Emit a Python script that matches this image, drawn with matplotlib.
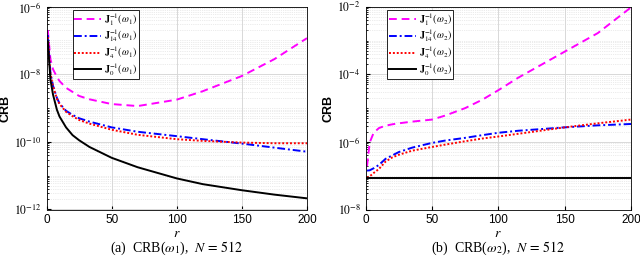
import numpy as np
import matplotlib
matplotlib.use("Agg")
import matplotlib.pyplot as plt
from matplotlib.ticker import LogLocator, NullFormatter

plt.rcParams['mathtext.fontset'] = 'stix'
plt.rcParams['font.family'] = ['Liberation Sans', 'DejaVu Sans']

# ---- data (log10 of CRB) ----
r_a = [1, 3, 5, 8, 10, 15, 20, 25, 33, 50, 70, 100, 120, 150, 175, 200]
a_J1 = [-6.69, -7.55, -7.85, -8.08, -8.20, -8.40, -8.52, -8.64, -8.74, -8.88, -8.94, -8.75, -8.50, -8.05, -7.55, -6.93]
a_J14 = [-6.84, -7.95, -8.34, -8.70, -8.86, -9.08, -9.20, -9.30, -9.40, -9.57, -9.70, -9.83, -9.92, -10.05, -10.17, -10.29]
a_J4 = [-6.90, -7.98, -8.36, -8.72, -8.88, -9.11, -9.24, -9.35, -9.46, -9.64, -9.79, -9.92, -9.97, -10.02, -10.04, -10.04]
a_J0 = [-7.03, -8.15, -8.60, -9.05, -9.25, -9.57, -9.80, -9.95, -10.15, -10.47, -10.75, -11.08, -11.25, -11.43, -11.56, -11.67]

r_b = [1, 3, 6, 10, 15, 20, 25, 35, 50, 60, 75, 88, 100, 115, 150, 175, 200]
b_J1 = [-6.72, -6.02, -5.73, -5.59, -5.52, -5.48, -5.45, -5.40, -5.34, -5.22, -5.00, -4.75, -4.47, -4.10, -3.33, -2.78, -2.02]
b_J14 = [-6.85, -6.84, -6.78, -6.68, -6.50, -6.40, -6.30, -6.17, -6.03, -5.96, -5.88, -5.80, -5.73, -5.67, -5.57, -5.51, -5.47]
b_J4 = [-7.06, -7.02, -6.92, -6.80, -6.58, -6.46, -6.38, -6.26, -6.15, -6.08, -5.98, -5.90, -5.84, -5.76, -5.57, -5.45, -5.34]
b_J0 = [-7.07] * 17

caps = [r"(a)  CRB($\omega_1$),  $N\,=\,512$", r"(b)  CRB($\omega_2$),  $N\,=\,512$"]

fig = plt.figure(figsize=(6.4, 2.73), dpi=100)
W, H = 640, 273
ax1 = fig.add_axes([46.5 / W, 1 - 209.5 / H, (307 - 46.5) / W, (209.5 - 6.7) / H])
ax2 = fig.add_axes([365.7 / W, 1 - 209.5 / H, (631 - 365.7) / W, (209.5 - 6.7) / H])

def draw(ax, r, J1, J14, J4, J0, w, ylim, legx):
    r = np.asarray(r)
    ax.plot(r, 10 ** np.asarray(J1), color='#ff00ff', ls=(0, (4, 2.5)), lw=1.4,
            label=r"$\mathbf{J}_1^{-1}(\omega_%d)$" % w)
    ax.plot(r, 10 ** np.asarray(J14), color='#0000ff', ls=(0, (4, 1.5, 1, 1.5)), lw=1.4,
            label=r"$\mathbf{J}_{14}^{-1}(\omega_%d)$" % w)
    ax.plot(r, 10 ** np.asarray(J4), color='#ff0000', ls=(0, (1, 1)), lw=1.4,
            label=r"$\mathbf{J}_4^{-1}(\omega_%d)$" % w)
    ax.plot(r, 10 ** np.asarray(J0), color='black', ls='-', lw=1.4,
            label=r"$\mathbf{J}_0^{-1}(\omega_%d)$" % w)
    ax.set_yscale('log')
    ax.set_xlim(0, 200)
    ax.set_ylim(*ylim)
    ax.set_xticks([0, 50, 100, 150, 200])
    lo, hi = np.log10(ylim)
    ticks = [10.0 ** e for e in range(int(round(lo)), int(round(hi)) + 1, 2)]
    ax.set_yticks(ticks)
    ax.set_yticklabels([r"$10^{%d}$" % int(round(np.log10(t))) for t in ticks])
    ax.yaxis.set_minor_locator(LogLocator(base=10, subs=np.arange(1, 10), numticks=20))
    ax.yaxis.set_minor_formatter(NullFormatter())
    ax.grid(True, which='major', color='#d8d8d8', lw=0.7)
    ax.grid(True, which='minor', axis='y', color='#d8d8d8', lw=0.5, ls=':')
    ax.tick_params(labelsize=8.5, direction='in', length=3, which='both')
    ax.tick_params(which='minor', length=1.5)
    ax.set_ylabel("CRB", fontweight='bold', fontsize=9, labelpad=2)
    ax.set_xlabel(r"$r$", fontsize=10, labelpad=0)
    for s in ax.spines.values():
        s.set_linewidth(0.6)
    leg = ax.legend(loc='upper left', bbox_to_anchor=(legx, 1.0), fontsize=7.2,
                    handlelength=2.7, handletextpad=0.3, borderpad=0.15,
                    labelspacing=0.0, fancybox=False, framealpha=1,
                    edgecolor='black', borderaxespad=0.3)
    leg.get_frame().set_linewidth(0.6)

draw(ax1, r_a, a_J1, a_J14, a_J4, a_J0, 1, (1e-12, 1e-6), 0.09)
draw(ax2, r_b, b_J1, b_J14, b_J4, b_J0, 2, (1e-8, 1e-2), 0.07)

for ax, c in zip((ax1, ax2), caps):
    ax.text(0.5, -0.19, c, transform=ax.transAxes, ha='center', va='center',
            fontsize=10, family='Liberation Serif')

fig.savefig("out.png", dpi=100)
